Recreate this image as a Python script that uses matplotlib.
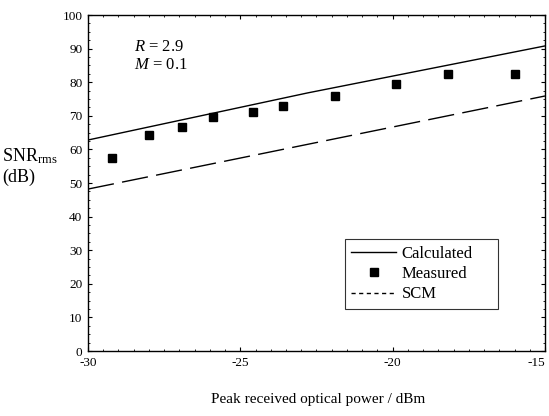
import matplotlib.pyplot as plt
from matplotlib.lines import Line2D
from matplotlib.ticker import MultipleLocator

plt.rcParams['font.family'] = ['Liberation Serif', 'DejaVu Serif']
plt.rcParams['mathtext.fontset'] = 'custom'
plt.rcParams['mathtext.rm'] = 'Liberation Serif'
plt.rcParams['mathtext.it'] = 'Liberation Serif:italic'
plt.rcParams['axes.unicode_minus'] = False

# данные
calc_x = [-30, -22.8, -15]
calc_y = [62.8, 76.8, 90.8]

scm_x = [-30, -15]
scm_y = [48.2, 75.9]

meas_x = [-29.2, -28.0, -26.9, -25.9, -24.6, -23.6, -21.9, -19.9, -18.2, -16.0]
meas_y = [57.4, 64.2, 66.6, 69.6, 71.2, 73.0, 75.8, 79.6, 82.5, 82.5]

x_ticks = [-30, -25, -20, -15]
y_ticks = list(range(0, 101, 10))

fig = plt.figure(figsize=(5.49, 4.16), dpi=100)
ax = fig.add_axes([0.1603, 0.1562, 0.8324, 0.8077])

ax.plot(calc_x, calc_y, color='black', lw=1.0)
ax.plot(scm_x, scm_y, color='black', lw=1.0, dashes=(19, 6))
ax.plot(meas_x, meas_y, 's', color='black', ms=5.5, ls='none')

ax.set_xlim(-30, -15)
ax.set_ylim(0, 100)
ax.set_xticks(x_ticks)
ax.set_yticks(y_ticks)
ax.xaxis.set_minor_locator(MultipleLocator(0.5))
ax.yaxis.set_minor_locator(MultipleLocator(2.5))
ax.tick_params(which='major', direction='in', length=3, width=0.8,
               labelsize=9.5, top=True, right=True, pad=4)
ax.tick_params(which='minor', direction='in', length=1.5, width=0.6,
               top=True, right=True)
for s in ax.spines.values():
    s.set_linewidth(1.0)
# последняя подпись прижата к краю, как на оригинале
ax.get_xticklabels()[-1].set_horizontalalignment('right')

ax.text(-28.5, 90.5, '$R$ = 2.9', fontsize=12, va='center')
ax.text(-28.5, 85.2, '$M$ = 0.1', fontsize=12, va='center')

fig.text(0.004, 0.625, 'SNR$_{\\mathrm{rms}}$', fontsize=13, va='center', ha='left')
fig.text(0.004, 0.573, '(dB)', fontsize=13, va='center', ha='left')

fig.text(0.58, 0.04, 'Peak received optical power / dBm', fontsize=11,
         ha='center', va='center')

handles = [
    Line2D([], [], color='black', lw=1.0),
    Line2D([], [], marker='s', color='black', ls='none', ms=5.5),
    Line2D([], [], color='black', lw=1.0, dashes=(3, 2.5)),
]
# рамка легенды растянута на нужную ширину
leg = ax.legend(handles, ['Calculated', 'Measured', 'SCM'],
                loc='lower left', bbox_to_anchor=(0.562, 0.125, 0.335, 0.2),
                mode='expand', borderaxespad=0, fontsize=12, frameon=True,
                fancybox=False, handlelength=2.7, handletextpad=0.3,
                borderpad=0.4, labelspacing=0.25)
leg.get_frame().set_edgecolor('black')
leg.get_frame().set_linewidth(0.8)

fig.savefig('out.png', dpi=100)
